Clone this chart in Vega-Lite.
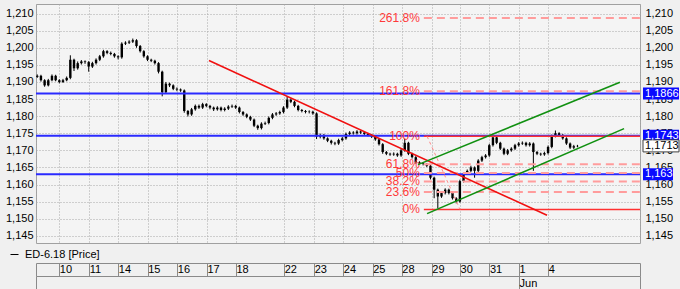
{
  "$schema": "https://vega.github.io/schema/vega-lite/v6.json",
  "width": 604,
  "height": 239,
  "autosize": "none",
  "padding": {"left": 36, "top": 4, "right": 40, "bottom": 46},
  "background": "#f0f0f0",
  "config": {
    "view": {"stroke": "#a0a0a0", "fill": "#f4f4f4"},
    "font": "Liberation Sans",
    "axis": {"labelFont": "Liberation Sans", "labelFontSize": 11, "labelColor": "#000000", "ticks": false, "domain": false, "gridColor": "#a8a8a8", "gridDash": [1, 2], "gridWidth": 1}
  },
  "datasets": {
    "bars": [
      {"t":-0.75,"o":1.1915,"h":1.1922,"l":1.1912,"c":1.1918},
      {"t":-0.625,"o":1.1918,"h":1.1921,"l":1.1901,"c":1.1905},
      {"t":-0.5,"o":1.1905,"h":1.1908,"l":1.1886,"c":1.1890},
      {"t":-0.375,"o":1.1890,"h":1.1909,"l":1.1887,"c":1.1905},
      {"t":-0.25,"o":1.1905,"h":1.1922,"l":1.1902,"c":1.1918},
      {"t":-0.125,"o":1.1918,"h":1.1921,"l":1.1902,"c":1.1905},
      {"t":0,"o":1.1905,"h":1.1908,"l":1.1896,"c":1.1900},
      {"t":0.125,"o":1.1900,"h":1.1909,"l":1.1897,"c":1.1905},
      {"t":0.25,"o":1.1905,"h":1.1916,"l":1.1902,"c":1.1912},
      {"t":0.375,"o":1.1912,"h":1.1978,"l":1.1908,"c":1.1965},
      {"t":0.5,"o":1.1965,"h":1.1968,"l":1.1932,"c":1.1940},
      {"t":0.625,"o":1.1940,"h":1.1960,"l":1.1936,"c":1.1955},
      {"t":0.75,"o":1.1955,"h":1.1964,"l":1.1951,"c":1.1960},
      {"t":0.875,"o":1.1960,"h":1.1963,"l":1.1953,"c":1.1958},
      {"t":1.0,"o":1.1958,"h":1.1961,"l":1.1930,"c":1.1945},
      {"t":1.125,"o":1.1945,"h":1.1959,"l":1.1941,"c":1.1955},
      {"t":1.25,"o":1.1955,"h":1.1969,"l":1.1951,"c":1.1965},
      {"t":1.375,"o":1.1965,"h":1.1979,"l":1.1961,"c":1.1975},
      {"t":1.5,"o":1.1975,"h":1.1994,"l":1.1971,"c":1.1990},
      {"t":1.625,"o":1.1990,"h":1.1993,"l":1.1981,"c":1.1985},
      {"t":1.75,"o":1.1985,"h":1.1989,"l":1.1978,"c":1.1982},
      {"t":1.875,"o":1.1982,"h":1.1985,"l":1.1971,"c":1.1975},
      {"t":2.0,"o":1.1975,"h":1.1978,"l":1.1966,"c":1.1972},
      {"t":2.125,"o":1.1972,"h":1.2016,"l":1.1968,"c":1.2012},
      {"t":2.25,"o":1.2012,"h":1.2019,"l":1.2008,"c":1.2015},
      {"t":2.375,"o":1.2015,"h":1.2022,"l":1.2011,"c":1.2018},
      {"t":2.5,"o":1.2018,"h":1.2027,"l":1.2014,"c":1.2022},
      {"t":2.625,"o":1.2022,"h":1.2025,"l":1.2000,"c":1.2005},
      {"t":2.75,"o":1.2005,"h":1.2008,"l":1.1986,"c":1.1990},
      {"t":2.875,"o":1.1990,"h":1.1993,"l":1.1971,"c":1.1975},
      {"t":3.0,"o":1.1975,"h":1.1978,"l":1.1961,"c":1.1965},
      {"t":3.125,"o":1.1965,"h":1.1968,"l":1.1958,"c":1.1962},
      {"t":3.25,"o":1.1962,"h":1.1965,"l":1.1951,"c":1.1955},
      {"t":3.375,"o":1.1955,"h":1.1958,"l":1.1925,"c":1.1930},
      {"t":3.5,"o":1.1930,"h":1.1933,"l":1.1858,"c":1.1870},
      {"t":3.625,"o":1.1870,"h":1.1900,"l":1.1866,"c":1.1895},
      {"t":3.75,"o":1.1895,"h":1.1898,"l":1.1885,"c":1.1890},
      {"t":3.875,"o":1.1890,"h":1.1893,"l":1.1876,"c":1.1880},
      {"t":4.0,"o":1.1880,"h":1.1884,"l":1.1873,"c":1.1878},
      {"t":4.125,"o":1.1878,"h":1.1881,"l":1.1871,"c":1.1875},
      {"t":4.25,"o":1.1875,"h":1.1878,"l":1.1810,"c":1.1815},
      {"t":4.375,"o":1.1815,"h":1.1818,"l":1.1799,"c":1.1805},
      {"t":4.5,"o":1.1805,"h":1.1824,"l":1.1801,"c":1.1820},
      {"t":4.625,"o":1.1820,"h":1.1834,"l":1.1816,"c":1.1830},
      {"t":4.75,"o":1.1830,"h":1.1834,"l":1.1821,"c":1.1825},
      {"t":4.875,"o":1.1825,"h":1.1839,"l":1.1821,"c":1.1835},
      {"t":5.0,"o":1.1835,"h":1.1838,"l":1.1826,"c":1.1830},
      {"t":5.125,"o":1.1830,"h":1.1833,"l":1.1820,"c":1.1825},
      {"t":5.25,"o":1.1825,"h":1.1828,"l":1.1815,"c":1.1820},
      {"t":5.375,"o":1.1820,"h":1.1829,"l":1.1816,"c":1.1825},
      {"t":5.5,"o":1.1825,"h":1.1828,"l":1.1814,"c":1.1818},
      {"t":5.625,"o":1.1818,"h":1.1826,"l":1.1814,"c":1.1822},
      {"t":5.75,"o":1.1822,"h":1.1832,"l":1.1818,"c":1.1828},
      {"t":5.875,"o":1.1828,"h":1.1834,"l":1.1824,"c":1.1830},
      {"t":6.0,"o":1.1830,"h":1.1833,"l":1.1821,"c":1.1825},
      {"t":6.125,"o":1.1825,"h":1.1828,"l":1.1808,"c":1.1812},
      {"t":6.25,"o":1.1812,"h":1.1815,"l":1.1801,"c":1.1805},
      {"t":6.375,"o":1.1805,"h":1.1808,"l":1.1794,"c":1.1798},
      {"t":6.5,"o":1.1798,"h":1.1801,"l":1.1786,"c":1.1790},
      {"t":6.625,"o":1.1790,"h":1.1793,"l":1.1768,"c":1.1772},
      {"t":6.75,"o":1.1772,"h":1.1775,"l":1.1760,"c":1.1765},
      {"t":6.875,"o":1.1765,"h":1.1782,"l":1.1761,"c":1.1778},
      {"t":7.0,"o":1.1778,"h":1.1784,"l":1.1774,"c":1.1780},
      {"t":7.125,"o":1.1780,"h":1.1799,"l":1.1776,"c":1.1795},
      {"t":7.25,"o":1.1795,"h":1.1809,"l":1.1791,"c":1.1805},
      {"t":7.375,"o":1.1805,"h":1.1812,"l":1.1801,"c":1.1808},
      {"t":7.5,"o":1.1808,"h":1.1816,"l":1.1804,"c":1.1812},
      {"t":7.625,"o":1.1812,"h":1.1829,"l":1.1808,"c":1.1825},
      {"t":7.75,"o":1.1825,"h":1.1858,"l":1.1821,"c":1.1848},
      {"t":7.875,"o":1.1848,"h":1.1852,"l":1.1838,"c":1.1842},
      {"t":8.0,"o":1.1842,"h":1.1845,"l":1.1826,"c":1.1830},
      {"t":8.125,"o":1.1830,"h":1.1833,"l":1.1814,"c":1.1818},
      {"t":8.25,"o":1.1818,"h":1.1821,"l":1.1811,"c":1.1815},
      {"t":8.375,"o":1.1815,"h":1.1818,"l":1.1808,"c":1.1812},
      {"t":8.5,"o":1.1812,"h":1.1817,"l":1.1808,"c":1.1813},
      {"t":8.625,"o":1.1813,"h":1.1816,"l":1.1804,"c":1.1808},
      {"t":8.75,"o":1.1808,"h":1.1811,"l":1.1733,"c":1.1740},
      {"t":8.875,"o":1.1740,"h":1.1749,"l":1.1735,"c":1.1745},
      {"t":9.0,"o":1.1745,"h":1.1748,"l":1.1731,"c":1.1735},
      {"t":9.125,"o":1.1735,"h":1.1738,"l":1.1724,"c":1.1728},
      {"t":9.25,"o":1.1728,"h":1.1731,"l":1.1717,"c":1.1722},
      {"t":9.375,"o":1.1722,"h":1.1725,"l":1.1715,"c":1.1720},
      {"t":9.5,"o":1.1720,"h":1.1734,"l":1.1716,"c":1.1730},
      {"t":9.625,"o":1.1730,"h":1.1739,"l":1.1726,"c":1.1735},
      {"t":9.75,"o":1.1735,"h":1.1752,"l":1.1731,"c":1.1748},
      {"t":9.875,"o":1.1748,"h":1.1756,"l":1.1744,"c":1.1752},
      {"t":10.0,"o":1.1752,"h":1.1756,"l":1.1746,"c":1.1750},
      {"t":10.125,"o":1.1750,"h":1.1759,"l":1.1746,"c":1.1755},
      {"t":10.25,"o":1.1755,"h":1.1758,"l":1.1748,"c":1.1752},
      {"t":10.375,"o":1.1752,"h":1.1755,"l":1.1744,"c":1.1748},
      {"t":10.5,"o":1.1748,"h":1.1751,"l":1.1741,"c":1.1745},
      {"t":10.625,"o":1.1745,"h":1.1748,"l":1.1736,"c":1.1740},
      {"t":10.75,"o":1.1740,"h":1.1743,"l":1.1728,"c":1.1732},
      {"t":10.875,"o":1.1732,"h":1.1735,"l":1.1714,"c":1.1718},
      {"t":11.0,"o":1.1718,"h":1.1721,"l":1.1690,"c":1.1695},
      {"t":11.125,"o":1.1695,"h":1.1698,"l":1.1686,"c":1.1690},
      {"t":11.25,"o":1.1690,"h":1.1693,"l":1.1684,"c":1.1688},
      {"t":11.375,"o":1.1688,"h":1.1694,"l":1.1684,"c":1.1690},
      {"t":11.5,"o":1.1690,"h":1.1693,"l":1.1681,"c":1.1685},
      {"t":11.625,"o":1.1685,"h":1.1704,"l":1.1681,"c":1.1700},
      {"t":11.75,"o":1.1700,"h":1.1735,"l":1.1696,"c":1.1722},
      {"t":11.875,"o":1.1722,"h":1.1725,"l":1.1686,"c":1.1690},
      {"t":12.0,"o":1.1690,"h":1.1693,"l":1.1676,"c":1.1680},
      {"t":12.125,"o":1.1680,"h":1.1683,"l":1.1661,"c":1.1665},
      {"t":12.25,"o":1.1665,"h":1.1668,"l":1.1658,"c":1.1662},
      {"t":12.375,"o":1.1662,"h":1.1665,"l":1.1656,"c":1.1660},
      {"t":12.5,"o":1.1660,"h":1.1663,"l":1.1651,"c":1.1655},
      {"t":12.625,"o":1.1655,"h":1.1658,"l":1.1615,"c":1.1620},
      {"t":12.75,"o":1.1620,"h":1.1623,"l":1.1560,"c":1.1585},
      {"t":12.875,"o":1.1585,"h":1.1588,"l":1.1530,"c":1.1565},
      {"t":13.0,"o":1.1565,"h":1.1579,"l":1.1561,"c":1.1575},
      {"t":13.125,"o":1.1575,"h":1.1589,"l":1.1571,"c":1.1585},
      {"t":13.25,"o":1.1585,"h":1.1588,"l":1.1571,"c":1.1575},
      {"t":13.375,"o":1.1575,"h":1.1578,"l":1.1556,"c":1.1560},
      {"t":13.5,"o":1.1560,"h":1.1563,"l":1.1545,"c":1.1550},
      {"t":13.625,"o":1.1550,"h":1.1614,"l":1.1547,"c":1.1610},
      {"t":13.75,"o":1.1610,"h":1.1636,"l":1.1606,"c":1.1632},
      {"t":13.875,"o":1.1632,"h":1.1644,"l":1.1628,"c":1.1640},
      {"t":14.0,"o":1.1640,"h":1.1655,"l":1.1636,"c":1.1650},
      {"t":14.125,"o":1.1650,"h":1.1653,"l":1.1620,"c":1.1640},
      {"t":14.25,"o":1.1640,"h":1.1674,"l":1.1636,"c":1.1670},
      {"t":14.375,"o":1.1670,"h":1.1684,"l":1.1666,"c":1.1680},
      {"t":14.5,"o":1.1680,"h":1.1689,"l":1.1676,"c":1.1685},
      {"t":14.625,"o":1.1685,"h":1.1719,"l":1.1681,"c":1.1715},
      {"t":14.75,"o":1.1715,"h":1.1746,"l":1.1711,"c":1.1738},
      {"t":14.875,"o":1.1738,"h":1.1741,"l":1.1718,"c":1.1722},
      {"t":15.0,"o":1.1722,"h":1.1725,"l":1.1701,"c":1.1705},
      {"t":15.125,"o":1.1705,"h":1.1708,"l":1.1686,"c":1.1690},
      {"t":15.25,"o":1.1690,"h":1.1704,"l":1.1686,"c":1.1700},
      {"t":15.375,"o":1.1700,"h":1.1709,"l":1.1696,"c":1.1705},
      {"t":15.5,"o":1.1705,"h":1.1719,"l":1.1701,"c":1.1715},
      {"t":15.625,"o":1.1715,"h":1.1724,"l":1.1711,"c":1.1720},
      {"t":15.75,"o":1.1720,"h":1.1726,"l":1.1716,"c":1.1722},
      {"t":15.875,"o":1.1722,"h":1.1725,"l":1.1711,"c":1.1715},
      {"t":16.0,"o":1.1715,"h":1.1724,"l":1.1711,"c":1.1720},
      {"t":16.125,"o":1.1720,"h":1.1723,"l":1.1640,"c":1.1695},
      {"t":16.25,"o":1.1695,"h":1.1698,"l":1.1686,"c":1.1690},
      {"t":16.375,"o":1.1690,"h":1.1693,"l":1.1684,"c":1.1688},
      {"t":16.5,"o":1.1688,"h":1.1696,"l":1.1684,"c":1.1692},
      {"t":16.625,"o":1.1692,"h":1.1714,"l":1.1688,"c":1.1710},
      {"t":16.75,"o":1.1710,"h":1.1746,"l":1.1706,"c":1.1742},
      {"t":16.875,"o":1.1742,"h":1.1758,"l":1.1738,"c":1.1750},
      {"t":17.0,"o":1.1750,"h":1.1753,"l":1.1741,"c":1.1745},
      {"t":17.125,"o":1.1745,"h":1.1748,"l":1.1731,"c":1.1735},
      {"t":17.25,"o":1.1735,"h":1.1738,"l":1.1716,"c":1.1720},
      {"t":17.375,"o":1.1720,"h":1.1723,"l":1.1704,"c":1.1708},
      {"t":17.5,"o":1.1708,"h":1.1716,"l":1.1704,"c":1.1712},
      {"t":17.625,"o":1.1712,"h":1.1716,"l":1.1709,"c":1.1713}
    ],
    "hl": [{"v": 1.1866}, {"v": 1.1743}, {"v": 1.163}],
    "fib": [
      {"pct": "0%", "p": 1.1527, "t0": 12.4},
      {"pct": "23.6%", "p": 1.1578, "t0": 12.4},
      {"pct": "38.2%", "p": 1.1609, "t0": 12.4},
      {"pct": "50%", "p": 1.1634, "t0": 12.4},
      {"pct": "61.8%", "p": 1.1659, "t0": 12.4},
      {"pct": "100%", "p": 1.1741, "t0": 12.4},
      {"pct": "161.8%", "p": 1.1873, "t0": 12.4},
      {"pct": "261.8%", "p": 1.2087, "t0": 12.4}
    ],
    "trend": [
      {"name": "down", "t1": 5.09, "p1": 1.19625, "t2": 16.59, "p2": 1.15099},
      {"name": "up1", "t1": 12.2, "p1": 1.16582, "t2": 19.07, "p2": 1.1899},
      {"name": "up2", "t1": 12.51, "p1": 1.15149, "t2": 19.21, "p2": 1.17635},
      {"name": "fibdiag", "t1": 12.51, "p1": 1.1741, "t2": 13.63, "p2": 1.1527}
    ],
    "tags": [
      {"v": 1.1866, "lab": "1,1866", "kind": "line"},
      {"v": 1.1743, "lab": "1,1743", "kind": "line"},
      {"v": 1.163, "lab": "1,163", "kind": "line"},
      {"v": 1.1713, "lab": "1,1713", "kind": "last"}
    ]
  },
  "resolve": {"axis": {"x": "independent", "y": "independent"}},
  "layer": [
    {
      "data": {"name": "bars"},
      "mark": {"type": "rule", "strokeWidth": 1},
      "encoding": {
        "x": {"field": "t", "type": "quantitative",
          "scale": {"domain": [-0.793, 19.752], "nice": false, "zero": false},
          "axis": {"orient": "bottom", "offset": 20, "title": null,
            "values": [-0.793, 0, 1.02, 2.007, 3.007, 4.014, 5.02, 6.01, 7.65, 8.67, 9.66, 10.66, 11.65, 12.67, 13.63, 14.63, 15.64, 16.63, 19.752],
            "labelExpr": "['','10','11','14','15','16','17','18','22','23','24','25','28','29','30','31','1','4',''][indexof([-0.793,0,1.02,2.007,3.007,4.014,5.02,6.01,7.65,8.67,9.66,10.66,11.65,12.67,13.63,14.63,15.64,16.63,19.752], datum.value)]",
            "grid": true, "ticks": true, "tickSize": 13, "tickColor": "#8a8a8a", "domain": true, "domainColor": "#8a8a8a",
            "labelAlign": "left", "labelDx": 3, "labelPadding": -6.5, "labelBaseline": "middle", "labelOverlap": false, "labelBound": false, "labelFlush": false}},
        "y": {"field": "l", "type": "quantitative",
          "scale": {"domain": [1.1429, 1.2128], "nice": false, "zero": false},
          "axis": {"orient": "left", "title": null, "grid": true, "labelPadding": 3,
            "values": [1.145, 1.15, 1.155, 1.16, 1.165, 1.17, 1.175, 1.18, 1.185, 1.19, 1.195, 1.2, 1.205, 1.21],
            "labelExpr": "replace(format(datum.value, '.3f'), '.', ',')"}},
        "y2": {"field": "h"},
        "color": {"datum": "ED-6.18 [Price]", "scale": {"range": ["#000000"]},
          "legend": {"orient": "none", "legendX": -27, "legendY": 245, "title": null, "symbolType": "stroke", "symbolSize": 64, "symbolStrokeWidth": 1, "symbolStrokeColor": "#404040", "labelFontSize": 11, "labelFont": "Liberation Sans", "labelColor": "#000000", "labelOffset": 5, "padding": 0}}
      }
    },
    {
      "data": {"name": "bars"},
      "mark": {"type": "rule", "strokeWidth": 2.4, "color": "#000000"},
      "encoding": {
        "x": {"field": "t", "type": "quantitative",
          "scale": {"domain": [-0.793, 19.752], "nice": false, "zero": false},
          "axis": {"orient": "bottom", "offset": 33, "title": null,
            "values": [-0.793, 15.64, 19.752],
            "labelExpr": "datum.value == 15.64 ? 'Jun' : ''",
            "grid": false, "ticks": true, "tickSize": 13, "tickColor": "#8a8a8a", "domain": true, "domainColor": "#8a8a8a",
            "labelAlign": "left", "labelDx": 3, "labelPadding": -6, "labelBaseline": "middle", "labelOverlap": false, "labelBound": false, "labelFlush": false}},
        "y": {"field": "o", "type": "quantitative",
          "scale": {"domain": [1.1429, 1.2128], "nice": false, "zero": false}, "axis": null},
        "y2": {"field": "c"}
      }
    },
    {
      "data": {"name": "hl"},
      "mark": {"type": "rule", "strokeWidth": 2, "color": "#2a2aff"},
      "encoding": {
        "y": {"field": "v", "type": "quantitative",
          "scale": {"domain": [1.1429, 1.2128], "nice": false, "zero": false},
          "axis": {"orient": "right", "title": null, "grid": false, "labelPadding": 5,
            "values": [1.145, 1.15, 1.155, 1.16, 1.165, 1.17, 1.175, 1.18, 1.185, 1.19, 1.195, 1.2, 1.205, 1.21],
            "labelExpr": "replace(format(datum.value, '.3f'), '.', ',')"}}
      }
    },
    {
      "data": {"name": "fib"},
      "transform": [{"filter": "datum.pct == '0%' || datum.pct == '100%'"}],
      "mark": {"type": "rule", "strokeWidth": 1.6, "color": "#ff3030"},
      "encoding": {
        "x": {"field": "t0", "type": "quantitative", "scale": {"domain": [-0.793, 19.752], "nice": false, "zero": false}, "axis": null},
        "x2": {"value": "width"},
        "y": {"field": "p", "type": "quantitative", "scale": {"domain": [1.1429, 1.2128], "nice": false, "zero": false}, "axis": null}
      }
    },
    {
      "data": {"name": "fib"},
      "transform": [{"filter": "datum.pct != '0%' && datum.pct != '100%'"}],
      "mark": {"type": "rule", "strokeWidth": 2, "color": "#ff9c9c", "strokeDash": [8, 5]},
      "encoding": {
        "x": {"field": "t0", "type": "quantitative", "scale": {"domain": [-0.793, 19.752], "nice": false, "zero": false}, "axis": null},
        "x2": {"value": "width"},
        "y": {"field": "p", "type": "quantitative", "scale": {"domain": [1.1429, 1.2128], "nice": false, "zero": false}, "axis": null}
      }
    },
    {
      "data": {"name": "fib"},
      "mark": {"type": "text", "align": "right", "baseline": "middle", "dx": -4, "fontSize": 12, "font": "Liberation Sans", "color": "#ff3a3a"},
      "encoding": {
        "x": {"field": "t0", "type": "quantitative", "scale": {"domain": [-0.793, 19.752], "nice": false, "zero": false}, "axis": null},
        "y": {"field": "p", "type": "quantitative", "scale": {"domain": [1.1429, 1.2128], "nice": false, "zero": false}, "axis": null},
        "text": {"field": "pct"}
      }
    },
    {
      "data": {"name": "trend"},
      "transform": [{"filter": "datum.name == 'fibdiag'"}],
      "mark": {"type": "rule", "strokeWidth": 1, "color": "#ff8a8a", "strokeDash": [3, 3]},
      "encoding": {
        "x": {"field": "t1", "type": "quantitative", "scale": {"domain": [-0.793, 19.752], "nice": false, "zero": false}, "axis": null},
        "x2": {"field": "t2"},
        "y": {"field": "p1", "type": "quantitative", "scale": {"domain": [1.1429, 1.2128], "nice": false, "zero": false}, "axis": null},
        "y2": {"field": "p2"}
      }
    },
    {
      "data": {"name": "trend"},
      "transform": [{"filter": "datum.name == 'down'"}],
      "mark": {"type": "rule", "strokeWidth": 1.6, "color": "#f01010"},
      "encoding": {
        "x": {"field": "t1", "type": "quantitative", "scale": {"domain": [-0.793, 19.752], "nice": false, "zero": false}, "axis": null},
        "x2": {"field": "t2"},
        "y": {"field": "p1", "type": "quantitative", "scale": {"domain": [1.1429, 1.2128], "nice": false, "zero": false}, "axis": null},
        "y2": {"field": "p2"}
      }
    },
    {
      "data": {"name": "trend"},
      "transform": [{"filter": "datum.name == 'up1' || datum.name == 'up2'"}],
      "mark": {"type": "rule", "strokeWidth": 1.6, "color": "#109010"},
      "encoding": {
        "x": {"field": "t1", "type": "quantitative", "scale": {"domain": [-0.793, 19.752], "nice": false, "zero": false}, "axis": null},
        "x2": {"field": "t2"},
        "y": {"field": "p1", "type": "quantitative", "scale": {"domain": [1.1429, 1.2128], "nice": false, "zero": false}, "axis": null},
        "y2": {"field": "p2"}
      }
    },
    {
      "data": {"name": "tags"},
      "transform": [{"filter": "datum.kind == 'line' && length(datum.lab) == 6"}],
      "mark": {"type": "rect", "fill": "#0a0aff", "yOffset": -6, "y2Offset": 6, "x": {"expr": "width + 3"}, "x2": {"expr": "width + 39"}},
      "encoding": {
        "y": {"field": "v", "type": "quantitative", "scale": {"domain": [1.1429, 1.2128], "nice": false, "zero": false}, "axis": null},
        "y2": {"field": "v"}
      }
    },
    {
      "data": {"name": "tags"},
      "transform": [{"filter": "datum.kind == 'line' && length(datum.lab) == 5"}],
      "mark": {"type": "rect", "fill": "#0a0aff", "yOffset": -6, "y2Offset": 6, "x": {"expr": "width + 3"}, "x2": {"expr": "width + 33"}},
      "encoding": {
        "y": {"field": "v", "type": "quantitative", "scale": {"domain": [1.1429, 1.2128], "nice": false, "zero": false}, "axis": null},
        "y2": {"field": "v"}
      }
    },
    {
      "data": {"name": "tags"},
      "transform": [{"filter": "datum.kind == 'last'"}],
      "mark": {"type": "rect", "fill": "#ffffff", "stroke": "#404040", "strokeWidth": 1, "yOffset": -6, "y2Offset": 6, "x": {"expr": "width + 3"}, "x2": {"expr": "width + 39"}},
      "encoding": {
        "y": {"field": "v", "type": "quantitative", "scale": {"domain": [1.1429, 1.2128], "nice": false, "zero": false}, "axis": null},
        "y2": {"field": "v"}
      }
    },
    {
      "data": {"name": "tags"},
      "transform": [{"filter": "datum.kind == 'line'"}],
      "mark": {"type": "text", "align": "left", "baseline": "middle", "fontSize": 11, "font": "Liberation Sans", "color": "#ffffff", "x": {"expr": "width + 5"}},
      "encoding": {
        "y": {"field": "v", "type": "quantitative", "scale": {"domain": [1.1429, 1.2128], "nice": false, "zero": false}, "axis": null},
        "text": {"field": "lab"}
      }
    },
    {
      "data": {"name": "tags"},
      "transform": [{"filter": "datum.kind == 'last'"}],
      "mark": {"type": "text", "align": "left", "baseline": "middle", "fontSize": 11, "font": "Liberation Sans", "color": "#000000", "x": {"expr": "width + 5"}},
      "encoding": {
        "y": {"field": "v", "type": "quantitative", "scale": {"domain": [1.1429, 1.2128], "nice": false, "zero": false}, "axis": null},
        "text": {"field": "lab"}
      }
    }
  ]
}
